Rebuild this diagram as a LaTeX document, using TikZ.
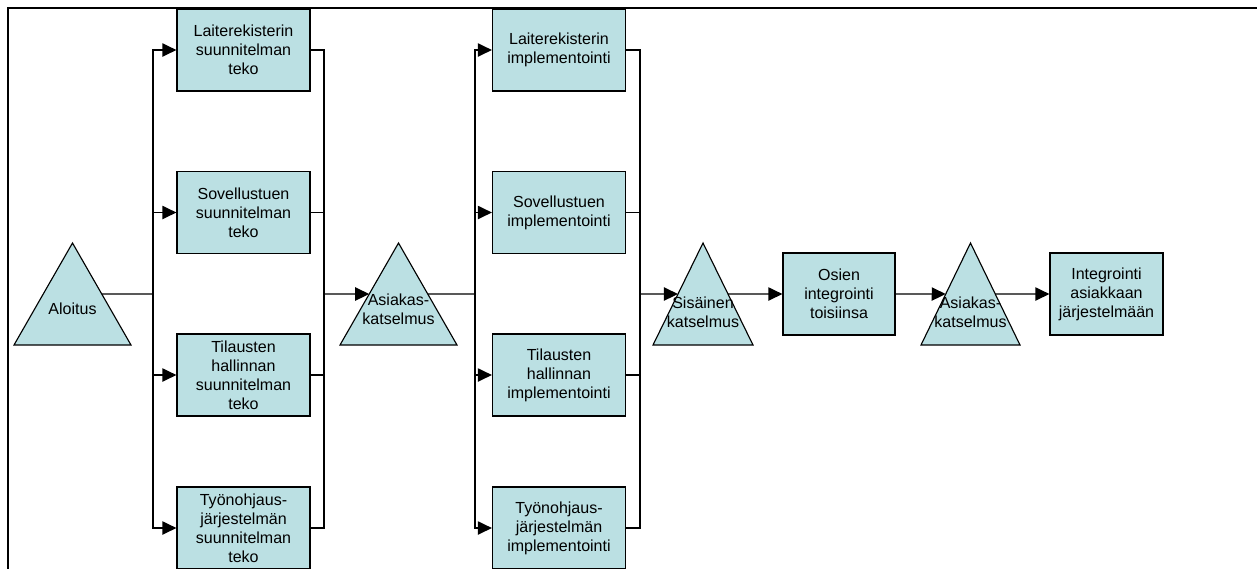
\documentclass[tikz,border=0pt]{standalone}
\usepackage{fontspec}
\setmainfont{Liberation Sans}
\usetikzlibrary{shapes.geometric,arrows.meta}
\definecolor{boxfill}{HTML}{BBE0E3}
\newcommand\boxfont{\fontsize{11.4}{13.6}\selectfont}

\begin{document}
\begin{tikzpicture}[x=0.025cm,y=-0.025cm,
        task/.style={draw,line width=0.8pt,fill=boxfill,minimum width=3.325cm,
            minimum height=2.05cm,inner sep=0pt,align=center,font=\boxfont},
        review/.style={draw,line width=0.8pt,fill=boxfill,isosceles triangle,
            shape border rotate=90,isosceles triangle stretches,inner sep=0pt,
            outer sep=0pt,minimum height=2.55cm,minimum width=#1,anchor=apex},
        revtext/.style={yshift=0.05cm,align=center,font=\boxfont},
        link/.style={line width=1pt},
        flow/.style={line width=1pt,-{Triangle[length=0.35cm,width=0.33cm]}}]
    \clip (0,0) rectangle (1257,568);
    %% frame
    \draw[line width=1.4pt] (8,575) -- (8,8) -- (1265,8);
    %% start and design phase
    \node[review=2.925cm,label={[revtext]center:Aloitus}] (start) at (72.5,243) {};
    \coordinate (fork1) at (153,294);
    \node[task] (plan1) at (243.5,50) {Laiterekisterin\\suunnitelman\\teko};
    \node[task] (plan2) at (243.5,212.5) {Sovellustuen\\suunnitelman\\teko};
    \node[task] (plan3) at (243.5,375) {Tilausten\\hallinnan\\suunnitelman\\teko};
    \node[task] (plan4) at (243.5,528) {Työnohjaus-\\järjestelmän\\suunnitelman\\teko};
    \coordinate (join1) at (324,294);
    \node[review=2.925cm,label={[revtext]center:Asiakas-\\katselmus}] (review1) at (398.5,243) {};
    %% implementation phase
    \coordinate (fork2) at (475,294);
    \node[task] (impl1) at (559,50) {Laiterekisterin\\implementointi};
    \node[task] (impl2) at (559,212.5) {Sovellustuen\\implementointi};
    \node[task] (impl3) at (559,375) {Tilausten\\hallinnan\\implementointi};
    \node[task] (impl4) at (559,528) {Työnohjaus-\\järjestelmän\\implementointi};
    \coordinate (join2) at (640,294);
    %% integration
    \node[review=2.5cm,label={[revtext]center:Sisäinen\\katselmus}] (review2) at (703,243) {};
    \node[task,minimum width=2.8cm] (merge) at (839,294) {Osien\\integrointi\\toisiinsa};
    \node[review=2.475cm,label={[revtext]center:Asiakas-\\katselmus}] (review3) at (970.5,243) {};
    \node[task,minimum width=2.825cm] (deliver) at (1106.5,294) {Integrointi\\asiakkaan\\järjestelmään};
    %% connectors
    \draw[link] (start.right side) -- (fork1);
    \foreach \n in {plan1,plan2,plan3,plan4} {
        \draw[flow] (fork1) |- (\n);
        \draw[link] (\n) -| (join1);
    }
    \draw[flow] (join1) -- (review1.left side);
    \draw[link] (review1.right side) -- (fork2);
    \foreach \n in {impl1,impl2,impl3,impl4} {
        \draw[flow] (fork2) |- (\n);
        \draw[link] (\n) -| (join2);
    }
    \draw[flow] (join2) -- (review2.left side);
    \draw[flow] (review2.right side) -- (merge);
    \draw[flow] (merge) -- (review3.left side);
    \draw[flow] (review3.right side) -- (deliver);
\end{tikzpicture}
\end{document}
